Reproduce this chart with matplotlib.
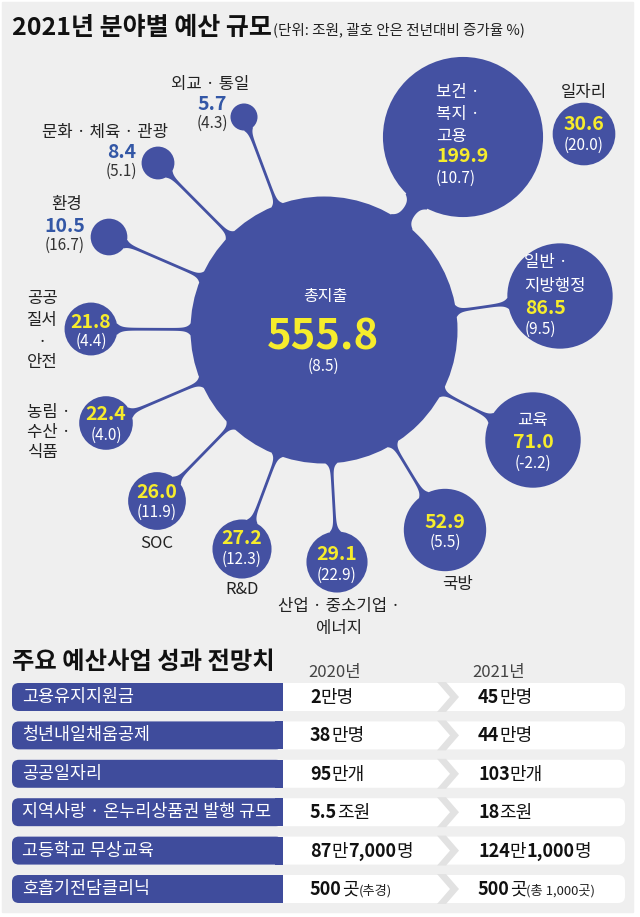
import re
import numpy as np
import matplotlib
matplotlib.use("Agg")
import matplotlib.pyplot as plt
from matplotlib.patches import Circle, Polygon, FancyBboxPatch, Rectangle

plt.rcParams['font.family'] = ['Noto Sans CJK KR', 'DejaVu Sans']

# ---------------- data ----------------
categories = ['총지출', '보건·복지·고용', '일자리', '일반·지방행정', '교육', '국방',
              '산업·중소기업·에너지', 'R&D', 'SOC', '농림·수산·식품', '공공질서·안전',
              '환경', '문화·체육·관광', '외교·통일']
budget_2021 = [555.8, 199.9, 30.6, 86.5, 71.0, 52.9, 29.1, 27.2, 26.0, 22.4, 21.8, 10.5, 8.4, 5.7]
growth = [8.5, 10.7, 20.0, 9.5, -2.2, 5.5, 22.9, 12.3, 11.9, 4.0, 4.4, 16.7, 5.1, 4.3]

items = ['고용유지지원금', '청년내일채움공제', '공공일자리', '지역사랑 · 온누리상품권 발행 규모',
         '고등학교 무상교육', '호흡기전담클리닉']
v2020 = ['2만명', '38만명', '95만개', '5.5조원', '87만7,000명', '500곳(추경)']
v2021 = ['45만명', '44만명', '103만개', '18조원', '124만1,000명', '500곳(총 1,000곳)']
years = ['2020년', '2021년']

# ---------------- style / layout ----------------
BG = '#efefef'
BLUE = '#4451a2'
BOX = '#3f4c9c'
YEL = '#f6ec2c'
VBLUE = '#3357a6'
DARK = '#222222'

W, H = 640, 917
fig = plt.figure(figsize=(W / 100, H / 100), dpi=100)
fig.patch.set_facecolor('white')
ax = fig.add_axes([0, 0, 1, 1])
ax.set_xlim(0, W)
ax.set_ylim(H, 0)
ax.set_aspect('equal')
ax.axis('off')
ax.add_patch(Rectangle((2, 2), 631, 910, color=BG, zorder=0))

R0 = 133.5
centers = [(324, 330), (463, 137), (584, 134), (560, 296), (533, 440), (445, 530),
           (337, 562), (242, 549), (157, 501), (106, 423), (91, 329), (109, 237),
           (158, 163), (244, 117)]
radii = [R0 * np.sqrt(v / budget_2021[0]) for v in budget_2021]

# text layout: (label lines, label x, label ys, ha, label color, value pos, growth pos, v-ha, value color, growth color)
spec = {
    1: (['보건 ·', '복지 ·', '고용'], 436, [93, 115, 137], 'left', 'white', (436, 157), (436, 178), 'left', YEL, 'white'),
    2: (['일자리'], 584, [93], 'center', DARK, (584, 125), (584, 145), 'center', YEL, 'white'),
    3: (['일반 ·', '지방행정'], 524, [263, 286], 'left', 'white', (525, 308), (525, 329), 'left', YEL, 'white'),
    4: (['교육'], 533, [420], 'center', 'white', (533, 442), (533, 463), 'center', YEL, 'white'),
    5: (['국방'], 458, [585], 'center', DARK, (445, 522), (445, 542), 'center', YEL, 'white'),
    6: (['산업 · 중소기업 ·', '에너지'], 339, [607, 628], 'center', DARK, (337, 555), (337, 575), 'center', YEL, 'white'),
    7: (['R&D'], 242, [590], 'center', DARK, (242, 539), (242, 559), 'center', YEL, 'white'),
    8: (['SOC'], 157, [543], 'center', DARK, (157, 493), (157, 512), 'center', YEL, 'white'),
    9: (['농림 ·', '수산 ·', '식품'], 27, [413, 433, 453], 'left', DARK, (106, 415), (106, 435), 'center', YEL, 'white'),
    10: (['공공', '질서', '·', '안전'], 42, [299, 321, 342, 362], 'center', DARK, (91, 322), (91, 341), 'center', YEL, 'white'),
    11: (['환경'], 67, [205], 'center', DARK, (65, 226), (65, 245), 'center', VBLUE, '#333333'),
    12: (['문화 · 체육 · 관광'], 105, [132], 'center', DARK, (122, 152), (121, 171), 'center', VBLUE, '#333333'),
    13: (['외교 · 통일'], 210, [84], 'center', DARK, (212, 104), (212, 123), 'center', VBLUE, '#333333'),
}


def stem(C, R, B, r, w_mid=2.8, fil1=4.5, fil2=4.0, d1=3.5, d2=4.0):
    C = np.array(C, float)
    B = np.array(B, float)
    d = B - C
    L = np.linalg.norm(d)
    u = d / L
    n = np.array([-u[1], u[0]])
    s = np.linspace(R - 20, L - r + min(15, r), 400)
    a = np.clip(s - R, 0, None)
    b = np.clip((L - r) - s, 0, None)
    half = w_mid / 2 + fil1 * np.exp(-a / d1) + fil2 * np.exp(-b / d2)
    pts_l = C + np.outer(s, u) + np.outer(half, n)
    pts_r = C + np.outer(s, u) - np.outer(half, n)
    poly = np.vstack([pts_l, pts_r[::-1]])
    ax.add_patch(Polygon(poly, closed=True, color=BLUE, lw=0, zorder=1))


# bubbles and stems
for i, (c, r) in enumerate(zip(centers, radii)):
    ax.add_patch(Circle(c, r, color=BLUE, lw=0, zorder=2))
    if i == 0 or i == 2:
        continue
    if i == 1:
        stem(centers[0], radii[0], c, r, w_mid=12, fil1=7, fil2=7, d1=4, d2=4)
    else:
        f2 = 3.0 if r < 20 else 4.0
        stem(centers[0], radii[0], c, r, fil2=f2)

# main circle text
ax.text(325, 297, categories[0], color='white', fontsize=11.5, ha='center', va='center', zorder=5)
ax.text(323, 337, f'{budget_2021[0]:.1f}', color=YEL, fontsize=30, fontweight='bold',
        ha='center', va='center', zorder=5)
ax.text(323, 366, f'({growth[0]:.1f})', color='white', fontsize=11, ha='center', va='center', zorder=5)

for i, sp in spec.items():
    lines, lx, lys, lha, lcol, vpos, gpos, vha, vcol, gcol = sp
    for t, y in zip(lines, lys):
        ax.text(lx, y, t, color=lcol, fontsize=12, ha=lha, va='center', zorder=5)
    ax.text(vpos[0], vpos[1], f'{budget_2021[i]:.1f}', color=vcol, fontsize=14, fontweight='bold',
            ha=vha, va='center', zorder=5)
    ax.text(gpos[0], gpos[1], f'({growth[i]:.1f})', color=gcol, fontsize=11, ha=vha, va='center', zorder=5)

# ---------------- title ----------------
renderer = fig.canvas.get_renderer()


def tw(t):
    return t.get_window_extent(renderer=renderer).width


t1 = ax.text(12, 28, '2021년 분야별 예산 규모', fontsize=18, fontweight='bold', color='#111111',
             ha='left', va='center')
ax.text(12 + tw(t1) + 1, 30, '(단위: 조원, 괄호 안은 전년대비 증가율 %)', fontsize=10.5, color='#222222',
        ha='left', va='center')

# ---------------- table ----------------
ax.text(12, 662, '주요 예산사업 성과 전망치', fontsize=17.5, fontweight='bold', color='#111111',
        ha='left', va='center')
ax.text(335, 672, years[0], fontsize=12, color='#444444', ha='center', va='center')
ax.text(499, 672, years[1], fontsize=12, color='#444444', ha='center', va='center')

row_y0, row_dy, row_h = 697, 38.4, 28
x_box0, x_box1, x_end = 12, 283, 627


def rich(x, yb, s, size=13):
    parts = re.findall(r'\([^)]*\)|[0-9.,]+|[^0-9.,(]+', s)
    for p in parts:
        if p.startswith('('):
            t = ax.text(x, yb, p, fontsize=9.5, color='#222222', ha='left', va='baseline', zorder=6)
        elif re.fullmatch(r'[0-9.,]+', p):
            t = ax.text(x, yb, p, fontsize=size, fontweight='bold', color='#111111', ha='left',
                        va='baseline', zorder=6)
        else:
            t = ax.text(x, yb, p, fontsize=size, color='#111111', ha='left', va='baseline', zorder=6)
        x += tw(t)


for k, item in enumerate(items):
    yc = row_y0 + k * row_dy
    top, bot = yc - row_h / 2, yc + row_h / 2
    ax.add_patch(FancyBboxPatch((x_box0 + 2, top), x_end - x_box0 - 4, row_h,
                                boxstyle='round,pad=0,rounding_size=7', fc='white', ec='none', zorder=2))
    ax.add_patch(FancyBboxPatch((x_box0, top), x_box1 - x_box0, row_h,
                                boxstyle='round,pad=0,rounding_size=7', fc=BOX, ec='none', zorder=3))
    ax.add_patch(Rectangle((x_box1 - 8, top), 8, row_h, fc=BOX, ec='none', zorder=3))
    # chevron separator
    chev = [(437, top - 1), (450, yc), (437, bot + 1), (446, bot + 1), (459, yc), (446, top - 1)]
    ax.add_patch(Polygon(chev, closed=True, fc='#e2e2e2', ec='none', zorder=4))
    ax.text(22, yc, item, fontsize=12.5, color='white', ha='left', va='center', zorder=5)
    rich(310, yc + 6, v2020[k])
    rich(478, yc + 6, v2021[k])

fig.savefig('out.png', dpi=100, facecolor=fig.get_facecolor())
